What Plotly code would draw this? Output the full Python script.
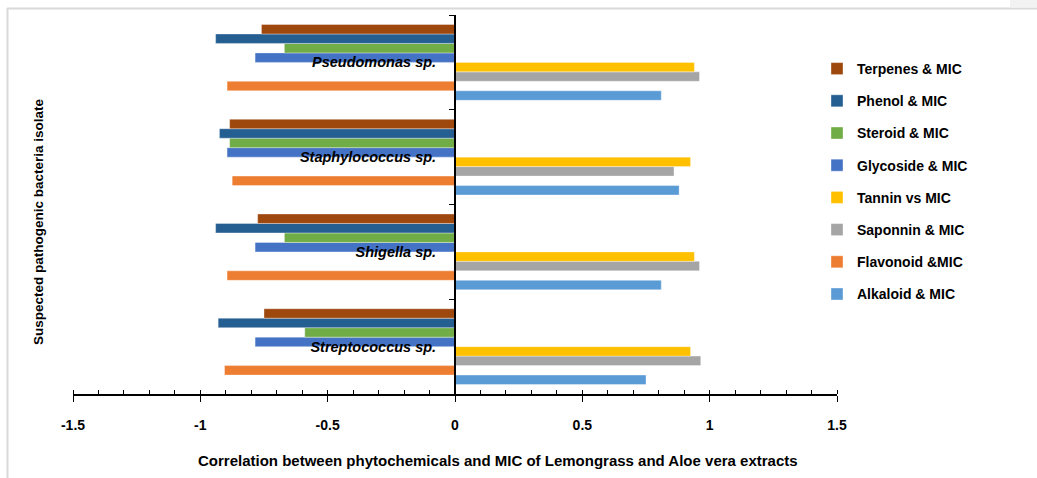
import plotly.graph_objects as go

# Categories (bottom to top on the chart)
categories = ["Streptococcus sp.", "Shigella sp.", "Staphylococcus sp.", "Pseudomonas sp."]

# Series values per category (same order as categories)
alkaloid = [0.75, 0.81, 0.88, 0.81]
flavonoid = [-0.905, -0.895, -0.875, -0.895]
saponnin = [0.965, 0.96, 0.86, 0.96]
tannin = [0.925, 0.94, 0.925, 0.94]
glycoside = [-0.785, -0.785, -0.895, -0.785]
steroid = [-0.59, -0.67, -0.885, -0.67]
phenol = [-0.93, -0.94, -0.925, -0.94]
terpenes = [-0.75, -0.775, -0.885, -0.76]

series_names = ["Alkaloid & MIC", "Flavonoid &MIC", "Saponnin & MIC", "Tannin vs MIC",
                "Glycoside & MIC", "Steroid & MIC", "Phenol & MIC", "Terpenes & MIC"]
series_values = [alkaloid, flavonoid, saponnin, tannin, glycoside, steroid, phenol, terpenes]
series_colors = ["#5B9BD5", "#ED7D31", "#A5A5A5", "#FFC000",
                 "#4472C4", "#70AD47", "#255E91", "#9E480E"]

x_tickvals = [-1.5, -1, -0.5, 0, 0.5, 1, 1.5]
x_ticktext = ["-1.5", "-1", "-0.5", "0", "0.5", "1", "1.5"]

FONT = "Liberation Sans, Arial, sans-serif"

fig = go.Figure()
n = len(series_names)
for i, (name, vals, col) in enumerate(zip(series_names, series_values, series_colors)):
    fig.add_trace(go.Bar(
        y=categories, x=vals, name=name, orientation="h",
        marker=dict(color=col, line=dict(color="rgba(255,255,255,0.6)", width=0.6)),
        legendgroup=name, legendrank=n - i,
    ))

W, H = 1037, 478
L, R, T, B = 73, 200, 15, 84
pw, ph = W - L - R, H - T - B


def px_x(p):
    return (p - L) / pw


def px_y(p):
    return (H - B - p) / ph


fig.update_layout(
    width=W, height=H,
    margin=dict(l=L, r=R, t=T, b=B),
    paper_bgcolor="white", plot_bgcolor="white",
    barmode="group", bargap=0.2, bargroupgap=0,
    font=dict(family=FONT, color="black"),
    showlegend=True,
    legend=dict(
        x=px_x(817), y=px_y(53), xanchor="left", yanchor="top",
        traceorder="grouped", tracegroupgap=11,
        font=dict(size=14, family=FONT, color="black", weight="bold"),
        bgcolor="rgba(0,0,0,0)",
    ),
    xaxis=dict(
        range=[-1.5, 1.5], tickvals=x_tickvals, ticktext=x_ticktext,
        showline=True, linecolor="black", linewidth=1.5,
        ticks="outside", ticklen=6, tickwidth=1.2, tickcolor="black",
        ticklabelstandoff=11,
        minor=dict(dtick=0.1, tick0=0, ticks="inside", ticklen=4, tickcolor="black", showgrid=False),
        showgrid=False, zeroline=False,
        tickfont=dict(size=14, family=FONT, color="black", weight="bold"),
    ),
    yaxis=dict(
        type="category", anchor="free", position=0.5,
        showline=True, linecolor="black", linewidth=2,
        ticks="outside", ticklen=5, tickcolor="black", tickson="boundaries",
        tickvals=categories,
        ticktext=["<b><i>" + c + "</i></b>" for c in categories],
        ticklabelstandoff=15,
        showgrid=False, zeroline=False,
        tickfont=dict(size=14.5, family=FONT, color="black"),
    ),
    annotations=[
        dict(text="<b>Suspected pathogenic bacteria isolate</b>", xref="paper", yref="paper",
             x=px_x(38), y=px_y(222), xanchor="center", yanchor="middle", textangle=-90,
             showarrow=False, font=dict(size=13.5, family=FONT, color="black")),
        dict(text="<b>Correlation between phytochemicals and MIC of Lemongrass and Aloe vera extracts</b>",
             xref="paper", yref="paper", x=px_x(498), y=px_y(460), xanchor="center", yanchor="middle",
             showarrow=False, font=dict(size=15, family=FONT, color="black")),
    ],
    shapes=[
        dict(type="line", xref="paper", yref="paper", x0=px_x(7), x1=px_x(1037),
             y0=px_y(8.5), y1=px_y(8.5), line=dict(color="#D9D9D9", width=2)),
        dict(type="line", xref="paper", yref="paper", x0=px_x(7.5), x1=px_x(7.5),
             y0=px_y(8), y1=px_y(478), line=dict(color="#D9D9D9", width=2)),
        dict(type="rect", xref="paper", yref="paper", x0=px_x(1010), x1=px_x(1037),
             y0=px_y(0), y1=px_y(7.5), line=dict(width=0), fillcolor="#F2F2F2"),
    ],
)

fig.write_html(
    "out.html",
    config={"displayModeBar": False},
    post_script="document.body.style.margin='0';document.body.style.padding='0';",
)
